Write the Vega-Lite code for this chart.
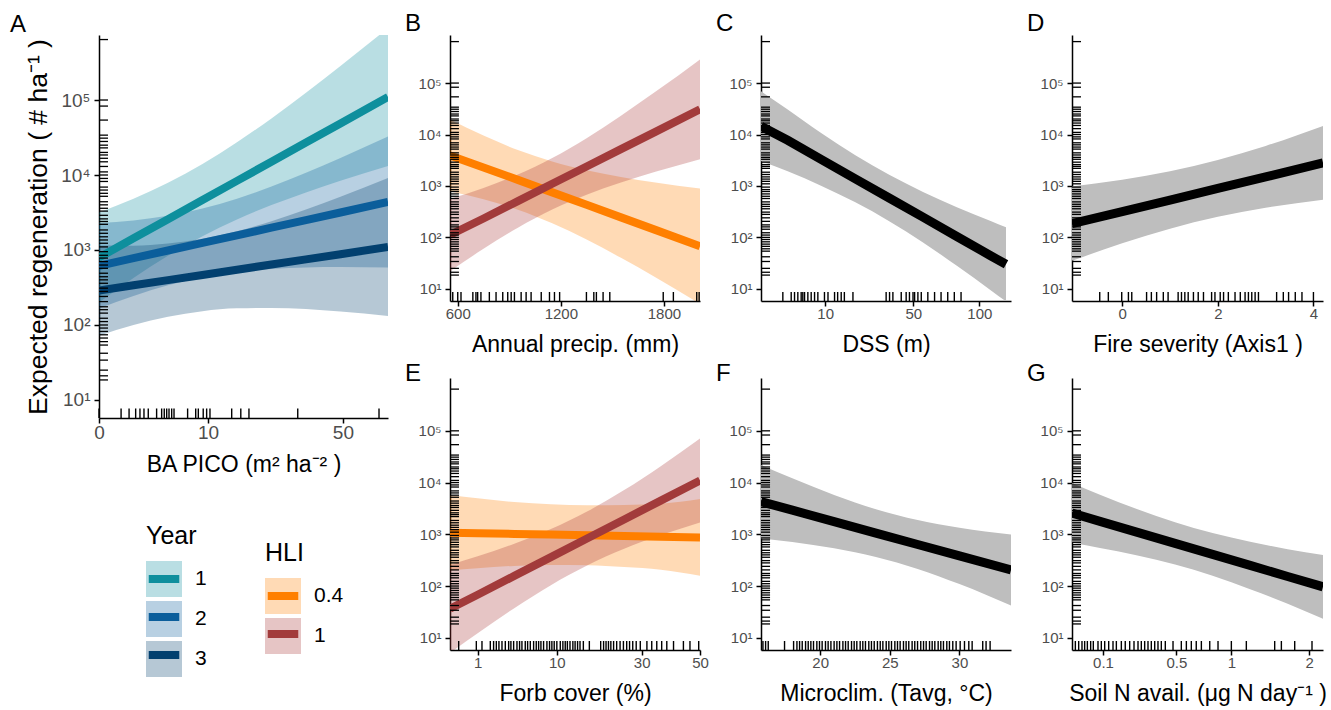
{
"$schema": "https://vega.github.io/schema/vega-lite/v6.json",
"padding": {"left": 10, "top": 12, "right": 5, "bottom": 5},
"background": "white",
"datasets": {
"bands": [
{"p":"A","g":"1","x":0,"lo":200,"fit":794,"hi":3162},
{"p":"A","g":"1","x":1,"lo":423,"fit":1429,"hi":4831},
{"p":"A","g":"1","x":4,"lo":838,"fit":2576,"hi":7910},
{"p":"A","g":"1","x":9,"lo":1528,"fit":4634,"hi":14060},
{"p":"A","g":"1","x":16,"lo":2559,"fit":8350,"hi":27290},
{"p":"A","g":"1","x":25,"lo":3972,"fit":15030,"hi":56890},
{"p":"A","g":"1","x":36,"lo":5861,"fit":27040,"hi":124700},
{"p":"A","g":"1","x":49,"lo":8375,"fit":48750,"hi":283800},
{"p":"A","g":"1","x":70.2,"lo":13180,"fit":109600,"hi":912000},
{"p":"A","g":"2","x":0,"lo":166,"fit":617,"hi":2291},
{"p":"A","g":"2","x":1,"lo":244,"fit":778,"hi":2477},
{"p":"A","g":"2","x":4,"lo":339,"fit":984,"hi":2858},
{"p":"A","g":"2","x":9,"lo":433,"fit":1242,"hi":3565},
{"p":"A","g":"2","x":16,"lo":511,"fit":1570,"hi":4831},
{"p":"A","g":"2","x":25,"lo":560,"fit":1982,"hi":7015},
{"p":"A","g":"2","x":36,"lo":585,"fit":2500,"hi":10690},
{"p":"A","g":"2","x":49,"lo":593,"fit":3162,"hi":16870},
{"p":"A","g":"2","x":70.2,"lo":583,"fit":4365,"hi":32660},
{"p":"A","g":"3","x":0,"lo":72,"fit":288,"hi":1148},
{"p":"A","g":"3","x":1,"lo":100,"fit":338,"hi":1143},
{"p":"A","g":"3","x":4,"lo":129,"fit":397,"hi":1218},
{"p":"A","g":"3","x":9,"lo":153,"fit":465,"hi":1413},
{"p":"A","g":"3","x":16,"lo":167,"fit":546,"hi":1782},
{"p":"A","g":"3","x":25,"lo":169,"fit":640,"hi":2421},
{"p":"A","g":"3","x":36,"lo":163,"fit":750,"hi":3459},
{"p":"A","g":"3","x":49,"lo":151,"fit":879,"hi":5117},
{"p":"A","g":"3","x":70.2,"lo":132,"fit":1096,"hi":9120},
{"p":"B","g":"0.4","x":555,"lo":776,"fit":3890,"hi":19500},
{"p":"B","g":"0.4","x":750,"lo":551,"fit":2291,"hi":9528},
{"p":"B","g":"0.4","x":950,"lo":345,"fit":1312,"hi":4989},
{"p":"B","g":"0.4","x":1150,"lo":188,"fit":750,"hi":2985},
{"p":"B","g":"0.4","x":1350,"lo":91,"fit":429,"hi":2023},
{"p":"B","g":"0.4","x":1550,"lo":40,"fit":245,"hi":1493},
{"p":"B","g":"0.4","x":1750,"lo":16.8,"fit":140,"hi":1167},
{"p":"B","g":"0.4","x":2010,"lo":5.1,"fit":67.6,"hi":891},
{"p":"B","g":"1","x":555,"lo":22,"fit":112,"hi":562},
{"p":"B","g":"1","x":750,"lo":60,"fit":233,"hi":912},
{"p":"B","g":"1","x":950,"lo":154,"fit":507,"hi":1671},
{"p":"B","g":"1","x":1150,"lo":347,"fit":1102,"hi":3499},
{"p":"B","g":"1","x":1350,"lo":675,"fit":2393,"hi":8492},
{"p":"B","g":"1","x":1550,"lo":1169,"fit":5200,"hi":23120},
{"p":"B","g":"1","x":1750,"lo":1884,"fit":11270,"hi":67450},
{"p":"B","g":"1","x":2010,"lo":3311,"fit":30900,"hi":288400},
{"p":"C","g":"c","x":0.1,"lo":3020,"fit":14450,"hi":69180},
{"p":"C","g":"c","x":2.25,"lo":1932,"fit":7709,"hi":30760},
{"p":"C","g":"c","x":9,"lo":1000,"fit":3260,"hi":10620},
{"p":"C","g":"c","x":20.25,"lo":480,"fit":1377,"hi":3954},
{"p":"C","g":"c","x":36,"lo":207,"fit":583,"hi":1644},
{"p":"C","g":"c","x":56.25,"lo":80,"fit":247,"hi":762},
{"p":"C","g":"c","x":81,"lo":28,"fit":104,"hi":387},
{"p":"C","g":"c","x":110.25,"lo":9.4,"fit":44,"hi":208},
{"p":"C","g":"c","x":125,"lo":5.7,"fit":30,"hi":157},
{"p":"D","g":"c","x":-1.05,"lo":35,"fit":186,"hi":977},
{"p":"D","g":"c","x":0,"lo":77,"fit":318,"hi":1315},
{"p":"D","g":"c","x":1,"lo":148,"fit":533,"hi":1928},
{"p":"D","g":"c","x":2,"lo":251,"fit":895,"hi":3192},
{"p":"D","g":"c","x":3,"lo":377,"fit":1503,"hi":6000},
{"p":"D","g":"c","x":4.2,"lo":541,"fit":2818,"hi":14690},
{"p":"E","g":"0.4","x":0.06,"lo":200,"fit":1072,"hi":5754},
{"p":"E","g":"0.4","x":1,"lo":221,"fit":1047,"hi":4955},
{"p":"E","g":"0.4","x":4,"lo":245,"fit":1016,"hi":4207},
{"p":"E","g":"0.4","x":9,"lo":256,"fit":986,"hi":3793},
{"p":"E","g":"0.4","x":16,"lo":252,"fit":957,"hi":3639},
{"p":"E","g":"0.4","x":25,"lo":232,"fit":927,"hi":3698},
{"p":"E","g":"0.4","x":36,"lo":207,"fit":899,"hi":3899},
{"p":"E","g":"0.4","x":50,"lo":158,"fit":871,"hi":4786},
{"p":"E","g":"1","x":0.06,"lo":5.1,"fit":36.3,"hi":256},
{"p":"E","g":"1","x":1,"lo":12.2,"fit":67.8,"hi":375},
{"p":"E","g":"1","x":4,"lo":37.4,"fit":157,"hi":656},
{"p":"E","g":"1","x":9,"lo":104,"fit":362,"hi":1259},
{"p":"E","g":"1","x":16,"lo":252,"fit":838,"hi":2780},
{"p":"E","g":"1","x":25,"lo":525,"fit":1936,"hi":7145},
{"p":"E","g":"1","x":36,"lo":966,"fit":4477,"hi":20750},
{"p":"E","g":"1","x":50,"lo":1698,"fit":10960,"hi":70790},
{"p":"F","g":"c","x":15.75,"lo":832,"fit":4266,"hi":21880},
{"p":"F","g":"c","x":18,"lo":710,"fit":2924,"hi":12050},
{"p":"F","g":"c","x":21,"lo":537,"fit":1758,"hi":5754},
{"p":"F","g":"c","x":24,"lo":365,"fit":1057,"hi":3062},
{"p":"F","g":"c","x":27,"lo":214,"fit":635,"hi":1888},
{"p":"F","g":"c","x":30,"lo":109,"fit":382,"hi":1337},
{"p":"F","g":"c","x":33.7,"lo":42,"fit":204,"hi":991},
{"p":"G","g":"c","x":0.0228,"lo":676,"fit":2570,"hi":9772},
{"p":"G","g":"c","x":0.09,"lo":546,"fit":1782,"hi":5821},
{"p":"G","g":"c","x":0.25,"lo":391,"fit":1091,"hi":3048},
{"p":"G","g":"c","x":0.49,"lo":260,"fit":668,"hi":1718},
{"p":"G","g":"c","x":0.81,"lo":158,"fit":409,"hi":1062},
{"p":"G","g":"c","x":1.21,"lo":87,"fit":251,"hi":719},
{"p":"G","g":"c","x":1.69,"lo":45.5,"fit":153,"hi":515},
{"p":"G","g":"c","x":2.215,"lo":23.3,"fit":96.6,"hi":400}
],
"xrug": [
{"p":"A","x":0},{"p":"A","x":0.41},{"p":"A","x":0.76},{"p":"A","x":1.13},{"p":"A","x":1.41},{"p":"A","x":1.7},{"p":"A","x":2.04},{"p":"A","x":2.79},{"p":"A","x":3.3},{"p":"A","x":3.58},{"p":"A","x":3.85},{"p":"A","x":4.12},{"p":"A","x":4.44},{"p":"A","x":4.73},{"p":"A","x":6.6},{"p":"A","x":7.86},{"p":"A","x":8.29},{"p":"A","x":9.13},{"p":"A","x":9.74},{"p":"A","x":10.35},{"p":"A","x":14.8},{"p":"A","x":16.9},{"p":"A","x":18.9},{"p":"A","x":33.2},{"p":"A","x":65.9},
{"p":"B","x":571},{"p":"B","x":600},{"p":"B","x":619},{"p":"B","x":688},{"p":"B","x":706},{"p":"B","x":716},{"p":"B","x":735},{"p":"B","x":784},{"p":"B","x":823},{"p":"B","x":862},{"p":"B","x":891},{"p":"B","x":911},{"p":"B","x":930},{"p":"B","x":969},{"p":"B","x":998},{"p":"B","x":1027},{"p":"B","x":1086},{"p":"B","x":1134},{"p":"B","x":1163},{"p":"B","x":1193},{"p":"B","x":1349},{"p":"B","x":1392},{"p":"B","x":1407},{"p":"B","x":1446},{"p":"B","x":1485},{"p":"B","x":1796},{"p":"B","x":1855},{"p":"B","x":1991},{"p":"B","x":2005},
{"p":"C","x":1.65},{"p":"C","x":2.74},{"p":"C","x":3.25},{"p":"C","x":3.8},{"p":"C","x":4.4},{"p":"C","x":4.71},{"p":"C","x":5.05},{"p":"C","x":5.73},{"p":"C","x":6.46},{"p":"C","x":7.24},{"p":"C","x":8.05},{"p":"C","x":9.8},{"p":"C","x":10.8},{"p":"C","x":12.8},{"p":"C","x":13.8},{"p":"C","x":15},{"p":"C","x":16.1},{"p":"C","x":19.3},{"p":"C","x":34.4},{"p":"C","x":36.2},{"p":"C","x":38},{"p":"C","x":42.7},{"p":"C","x":45.6},{"p":"C","x":47.6},{"p":"C","x":49.8},{"p":"C","x":50.8},{"p":"C","x":52.9},{"p":"C","x":55.1},{"p":"C","x":59.5},{"p":"C","x":64.2},{"p":"C","x":68.9},{"p":"C","x":73.9},{"p":"C","x":79},{"p":"C","x":84.4},
{"p":"D","x":-0.47},{"p":"D","x":-0.29},{"p":"D","x":-0.01},{"p":"D","x":0.13},{"p":"D","x":0.2},{"p":"D","x":0.51},{"p":"D","x":0.61},{"p":"D","x":0.72},{"p":"D","x":0.86},{"p":"D","x":0.96},{"p":"D","x":1.17},{"p":"D","x":1.24},{"p":"D","x":1.31},{"p":"D","x":1.38},{"p":"D","x":1.49},{"p":"D","x":1.59},{"p":"D","x":1.7},{"p":"D","x":1.87},{"p":"D","x":1.94},{"p":"D","x":2.05},{"p":"D","x":2.12},{"p":"D","x":2.22},{"p":"D","x":2.36},{"p":"D","x":2.47},{"p":"D","x":2.57},{"p":"D","x":2.64},{"p":"D","x":2.71},{"p":"D","x":2.78},{"p":"D","x":2.85},{"p":"D","x":3.23},{"p":"D","x":3.37},{"p":"D","x":3.48},{"p":"D","x":3.62},{"p":"D","x":3.76},{"p":"D","x":4.0},
{"p":"E","x":0.232},{"p":"E","x":0.929},{"p":"E","x":1.25},{"p":"E","x":1.81},{"p":"E","x":2.06},{"p":"E","x":2.28},{"p":"E","x":2.5},{"p":"E","x":2.77},{"p":"E","x":3.08},{"p":"E","x":3.41},{"p":"E","x":3.64},{"p":"E","x":3.93},{"p":"E","x":4.3},{"p":"E","x":4.6},{"p":"E","x":4.88},{"p":"E","x":5.29},{"p":"E","x":5.59},{"p":"E","x":5.94},{"p":"E","x":6.39},{"p":"E","x":6.76},{"p":"E","x":7.1},{"p":"E","x":7.44},{"p":"E","x":7.84},{"p":"E","x":8.36},{"p":"E","x":8.78},{"p":"E","x":9.16},{"p":"E","x":9.55},{"p":"E","x":10},{"p":"E","x":10.6},{"p":"E","x":11.07},{"p":"E","x":11.5},{"p":"E","x":11.9},{"p":"E","x":12.4},{"p":"E","x":12.96},{"p":"E","x":13.4},{"p":"E","x":13.9},{"p":"E","x":14.4},{"p":"E","x":15.1},{"p":"E","x":16.4},{"p":"E","x":19},{"p":"E","x":19.7},{"p":"E","x":20.3},{"p":"E","x":20.9},{"p":"E","x":21.5},{"p":"E","x":22.2},{"p":"E","x":23},{"p":"E","x":23.9},{"p":"E","x":24.8},{"p":"E","x":25.7},{"p":"E","x":26.5},{"p":"E","x":27.4},{"p":"E","x":28.4},{"p":"E","x":29.6},{"p":"E","x":31.6},{"p":"E","x":33.1},{"p":"E","x":34.7},{"p":"E","x":36.3},{"p":"E","x":38},{"p":"E","x":40.3},{"p":"E","x":43.8},{"p":"E","x":46.2},{"p":"E","x":49.5},
{"p":"F","x":15.89},{"p":"F","x":16.08},{"p":"F","x":16.27},{"p":"F","x":17.44},{"p":"F","x":18.09},{"p":"F","x":18.33},{"p":"F","x":18.52},{"p":"F","x":18.71},{"p":"F","x":18.95},{"p":"F","x":19.14},{"p":"F","x":19.33},{"p":"F","x":19.52},{"p":"F","x":19.76},{"p":"F","x":19.95},{"p":"F","x":20.14},{"p":"F","x":20.38},{"p":"F","x":20.57},{"p":"F","x":20.77},{"p":"F","x":21.0},{"p":"F","x":21.2},{"p":"F","x":21.39},{"p":"F","x":21.63},{"p":"F","x":21.82},{"p":"F","x":22.01},{"p":"F","x":22.25},{"p":"F","x":22.44},{"p":"F","x":22.63},{"p":"F","x":22.87},{"p":"F","x":23.06},{"p":"F","x":23.25},{"p":"F","x":23.49},{"p":"F","x":23.68},{"p":"F","x":23.88},{"p":"F","x":24.11},{"p":"F","x":24.31},{"p":"F","x":24.5},{"p":"F","x":24.74},{"p":"F","x":24.93},{"p":"F","x":25.12},{"p":"F","x":25.36},{"p":"F","x":25.55},{"p":"F","x":25.74},{"p":"F","x":25.98},{"p":"F","x":26.17},{"p":"F","x":26.36},{"p":"F","x":26.6},{"p":"F","x":26.79},{"p":"F","x":26.99},{"p":"F","x":27.22},{"p":"F","x":27.42},{"p":"F","x":27.61},{"p":"F","x":27.85},{"p":"F","x":28.04},{"p":"F","x":28.23},{"p":"F","x":28.47},{"p":"F","x":28.66},{"p":"F","x":28.85},{"p":"F","x":29.09},{"p":"F","x":29.28},{"p":"F","x":29.52},{"p":"F","x":29.76},{"p":"F","x":30.05},{"p":"F","x":30.36},{"p":"F","x":30.67},{"p":"F","x":30.91},{"p":"F","x":31.67},{"p":"F","x":31.91},{"p":"F","x":32.2},
{"p":"G","x":0.0285},{"p":"G","x":0.0348},{"p":"G","x":0.0417},{"p":"G","x":0.0477},{"p":"G","x":0.0542},{"p":"G","x":0.0627},{"p":"G","x":0.07},{"p":"G","x":0.0838},{"p":"G","x":0.0944},{"p":"G","x":0.1057},{"p":"G","x":0.12},{"p":"G","x":0.1365},{"p":"G","x":0.15},{"p":"G","x":0.1713},{"p":"G","x":0.189},{"p":"G","x":0.21},{"p":"G","x":0.2317},{"p":"G","x":0.2527},{"p":"G","x":0.2707},{"p":"G","x":0.2896},{"p":"G","x":0.309},{"p":"G","x":0.329},{"p":"G","x":0.35},{"p":"G","x":0.371},{"p":"G","x":0.393},{"p":"G","x":0.42},{"p":"G","x":0.475},{"p":"G","x":0.538},{"p":"G","x":0.578},{"p":"G","x":0.619},{"p":"G","x":0.661},{"p":"G","x":0.706},{"p":"G","x":0.783},{"p":"G","x":0.863},{"p":"G","x":1.0},{"p":"G","x":1.166},{"p":"G","x":1.515},{"p":"G","x":1.604},{"p":"G","x":1.789},{"p":"G","x":2.044}
],
"yrug": [
{"y":640000},{"y":100000},{"y":83000},{"y":54000},{"y":34000},{"y":31000},{"y":28000},{"y":25000},{"y":23000},{"y":20000},{"y":18500},{"y":16700},{"y":15000},{"y":13000},{"y":11000},{"y":10000},{"y":9000},{"y":8200},{"y":6900},{"y":6300},{"y":5700},{"y":5200},{"y":4400},{"y":4000},{"y":3600},{"y":3300},{"y":2900},{"y":2600},{"y":2400},{"y":2200},{"y":1850},{"y":1670},{"y":1500},{"y":1360},{"y":1230},{"y":1100},{"y":950},{"y":850},{"y":780},{"y":700},{"y":630},{"y":570},{"y":490},{"y":440},{"y":400},{"y":360},{"y":310},{"y":280},{"y":240},{"y":205},{"y":175},{"y":160},{"y":144},{"y":123},{"y":111},{"y":100},{"y":91},{"y":82},{"y":74},{"y":67},{"y":60},{"y":54},{"y":42},{"y":34},{"y":25},{"y":21},{"y":18.5}
]
},
"config": {
"font": "Liberation Sans",
"view": {"stroke": null},
"axis": {"grid": false, "domainColor": "black", "domainWidth": 1.5, "tickColor": "black", "tickWidth": 1.5, "tickSize": 5, "labelColor": "#4d4d4d", "labelFontSize": 15, "titleFontSize": 23, "titleFontWeight": "normal", "titleColor": "black", "labelPadding": 0, "titlePadding": 12, "labelFlush": false, "labelOverlap": false},
"axisY": {"labelPadding": 4},
"title": {"fontSize": 24, "fontWeight": "normal", "anchor": "start", "frame": "group", "baseline": "alphabetic", "color": "black"},
"legend": {"padding": 0, "labelFontSize": 21, "labelColor": "black", "titleFontSize": 25, "titleFontWeight": "normal", "titleColor": "black", "rowPadding": 4, "labelOffset": 13, "titlePadding": 12}
},
"bounds": "flush",
"spacing": 62,
"resolve": {"scale": {"fill": "independent", "stroke": "independent"}},
"hconcat": [
{
"width": 289, "height": 383,
"title": {"text": "A", "dx": -89, "offset": -2},
"layer": [
{"data": {"name": "bands"}, "transform": [{"filter": "datum.p === 'A'"}],
 "mark": {"type": "area", "opacity": 0.29, "clip": true, "interpolate": "monotone"},
 "encoding": {
  "x": {"field": "x", "type": "quantitative", "scale": {"type": "sqrt", "domain": [0, 70.2], "nice": false, "zero": false}, "axis": {"values": [0, 10, 50], "labelExpr": "'' + datum.value", "title": "BA PICO (m² ha⁻² )", "labelFontSize": 19, "titleFontSize": 23, "titlePadding": 11}},
  "y": {"field": "lo", "type": "quantitative", "scale": {"type": "log", "domain": [5.75, 736000], "nice": false}, "axis": {"values": [10, 100, 1000, 10000, 100000], "labelExpr": "'10' + (datum.value >= 99999 ? '⁵' : datum.value >= 9999 ? '⁴' : datum.value >= 999 ? '³' : datum.value >= 99 ? '²' : '¹')", "title": "Expected regeneration ( # ha⁻¹ )", "labelFontSize": 19, "titleFontSize": 26.5, "titlePadding": 8}},
  "y2": {"field": "hi"},
  "fill": {"field": "g", "type": "nominal", "scale": {"domain": ["1", "2", "3"], "range": ["#0e8f9d", "#0b5e9b", "#02406f"]}, "legend": {"orient": "none", "legendX": 47, "legendY": 489, "title": "Year", "symbolType": "square", "symbolSize": 1296, "symbolOpacity": 0.29, "symbolStrokeWidth": 0}}
 }},
{"data": {"name": "bands"}, "transform": [{"filter": "datum.p === 'A'"}],
 "mark": {"type": "line", "strokeWidth": 8, "clip": true},
 "encoding": {
  "x": {"field": "x", "type": "quantitative"},
  "y": {"field": "fit", "type": "quantitative"},
  "stroke": {"field": "g", "type": "nominal", "scale": {"range": ["#0e8f9d", "#0b5e9b", "#02406f"]}, "legend": {"orient": "none", "legendX": 47, "legendY": 526, "title": null, "labelExpr": "''", "symbolType": "M-1.09,0H1.09", "symbolSize": 784, "symbolStrokeWidth": 8, "symbolFillColor": "transparent", "symbolOpacity": 1}}
 }},
{"data": {"name": "xrug"}, "transform": [{"filter": "datum.p === 'A'"}],
 "mark": {"type": "rule", "color": "black", "strokeWidth": 1.4},
 "encoding": {"x": {"field": "x", "type": "quantitative"}, "y": {"datum": 5.75}, "y2": {"datum": 7.7}}},
{"data": {"name": "yrug"},
 "mark": {"type": "rule", "color": "black", "strokeWidth": 1.3},
 "encoding": {"y": {"field": "y", "type": "quantitative"}, "x": {"datum": 0}, "x2": {"datum": 0.068}}}
]
},
{
"concat": [
{
"width": 250, "height": 266,
"title": {"text": "B", "dx": -45, "offset": -1},
"layer": [
{"data": {"name": "bands"}, "transform": [{"filter": "datum.p === 'B'"}],
 "mark": {"type": "area", "opacity": 0.29, "clip": true, "interpolate": "monotone"},
 "encoding": {
  "x": {"field": "x", "type": "quantitative", "scale": {"type": "linear", "domain": [555, 2010], "nice": false, "zero": false}, "axis": {"values": [600, 1200, 1800], "labelExpr": "'' + datum.value", "title": "Annual precip. (mm)"}},
  "y": {"field": "lo", "type": "quantitative", "scale": {"type": "log", "domain": [5.8, 860000], "nice": false}, "axis": {"values": [10, 100, 1000, 10000, 100000], "labelExpr": "'10' + (datum.value >= 99999 ? '⁵' : datum.value >= 9999 ? '⁴' : datum.value >= 999 ? '³' : datum.value >= 99 ? '²' : '¹')", "title": null}},
  "y2": {"field": "hi"},
  "fill": {"field": "g", "type": "nominal", "scale": {"domain": ["0.4", "1"], "range": ["#ff7f00", "#a83838"]}, "legend": {"orient": "none", "legendX": -185, "legendY": 506, "title": "HLI", "symbolType": "square", "symbolSize": 1296, "symbolOpacity": 0.29, "symbolStrokeWidth": 0}}
 }},
{"data": {"name": "bands"}, "transform": [{"filter": "datum.p === 'B'"}],
 "mark": {"type": "line", "strokeWidth": 8, "clip": true},
 "encoding": {
  "x": {"field": "x", "type": "quantitative"},
  "y": {"field": "fit", "type": "quantitative"},
  "stroke": {"field": "g", "type": "nominal", "scale": {"range": ["#ff7f00", "#a23b3b"]}, "legend": {"orient": "none", "legendX": -185, "legendY": 543, "title": null, "labelExpr": "''", "symbolType": "M-1.09,0H1.09", "symbolSize": 784, "symbolStrokeWidth": 8, "symbolFillColor": "transparent", "symbolOpacity": 1}}
 }},
{"data": {"name": "xrug"}, "transform": [{"filter": "datum.p === 'B'"}],
 "mark": {"type": "rule", "color": "black", "strokeWidth": 1.4},
 "encoding": {"x": {"field": "x", "type": "quantitative"}, "y": {"datum": 5.8}, "y2": {"datum": 8.68}}},
{"data": {"name": "yrug"},
 "mark": {"type": "rule", "color": "black", "strokeWidth": 1.3},
 "encoding": {"y": {"field": "y", "type": "quantitative"}, "x": {"datum": 555}, "x2": {"datum": 607}}}
]
},
{
"width": 250, "height": 266,
"title": {"text": "C", "dx": -45, "offset": -1},
"layer": [
{"data": {"name": "bands"}, "transform": [{"filter": "datum.p === 'C'"}],
 "mark": {"type": "area", "color": "#bebebe", "clip": true, "interpolate": "monotone"},
 "encoding": {
  "x": {"field": "x", "type": "quantitative", "scale": {"type": "sqrt", "domain": [0.1, 130], "nice": false, "zero": false}, "axis": {"values": [10, 50, 100], "labelExpr": "'' + datum.value", "title": "DSS (m)"}},
  "y": {"field": "lo", "type": "quantitative", "scale": {"type": "log", "domain": [5.8, 860000], "nice": false}, "axis": {"values": [10, 100, 1000, 10000, 100000], "labelExpr": "'10' + (datum.value >= 99999 ? '⁵' : datum.value >= 9999 ? '⁴' : datum.value >= 999 ? '³' : datum.value >= 99 ? '²' : '¹')", "title": null}},
  "y2": {"field": "hi"}
 }},
{"data": {"name": "bands"}, "transform": [{"filter": "datum.p === 'C'"}],
 "mark": {"type": "line", "strokeWidth": 9, "color": "black", "clip": true},
 "encoding": {"x": {"field": "x", "type": "quantitative"}, "y": {"field": "fit", "type": "quantitative"}}},
{"data": {"name": "xrug"}, "transform": [{"filter": "datum.p === 'C'"}],
 "mark": {"type": "rule", "color": "black", "strokeWidth": 1.4},
 "encoding": {"x": {"field": "x", "type": "quantitative"}, "y": {"datum": 5.8}, "y2": {"datum": 8.68}}},
{"data": {"name": "yrug"},
 "mark": {"type": "rule", "color": "black", "strokeWidth": 1.3},
 "encoding": {"y": {"field": "y", "type": "quantitative"}, "x": {"datum": 0.1}, "x2": {"datum": 0.511}}}
]
},
{
"width": 251, "height": 266,
"title": {"text": "D", "dx": -45, "offset": -1},
"layer": [
{"data": {"name": "bands"}, "transform": [{"filter": "datum.p === 'D'"}],
 "mark": {"type": "area", "color": "#bebebe", "clip": true, "interpolate": "monotone"},
 "encoding": {
  "x": {"field": "x", "type": "quantitative", "scale": {"type": "linear", "domain": [-1.05, 4.2], "nice": false, "zero": false}, "axis": {"values": [0, 2, 4], "labelExpr": "'' + datum.value", "title": "Fire severity (Axis1 )"}},
  "y": {"field": "lo", "type": "quantitative", "scale": {"type": "log", "domain": [5.8, 860000], "nice": false}, "axis": {"values": [10, 100, 1000, 10000, 100000], "labelExpr": "'10' + (datum.value >= 99999 ? '⁵' : datum.value >= 9999 ? '⁴' : datum.value >= 999 ? '³' : datum.value >= 99 ? '²' : '¹')", "title": null}},
  "y2": {"field": "hi"}
 }},
{"data": {"name": "bands"}, "transform": [{"filter": "datum.p === 'D'"}],
 "mark": {"type": "line", "strokeWidth": 9, "color": "black", "clip": true},
 "encoding": {"x": {"field": "x", "type": "quantitative"}, "y": {"field": "fit", "type": "quantitative"}}},
{"data": {"name": "xrug"}, "transform": [{"filter": "datum.p === 'D'"}],
 "mark": {"type": "rule", "color": "black", "strokeWidth": 1.4},
 "encoding": {"x": {"field": "x", "type": "quantitative"}, "y": {"datum": 5.8}, "y2": {"datum": 8.68}}},
{"data": {"name": "yrug"},
 "mark": {"type": "rule", "color": "black", "strokeWidth": 1.3},
 "encoding": {"y": {"field": "y", "type": "quantitative"}, "x": {"datum": -1.05}, "x2": {"datum": -0.862}}}
]
},
{
"width": 250, "height": 272,
"title": {"text": "E", "dx": -45, "offset": -8},
"layer": [
{"data": {"name": "bands"}, "transform": [{"filter": "datum.p === 'E'"}],
 "mark": {"type": "area", "opacity": 0.29, "clip": true, "interpolate": "monotone"},
 "encoding": {
  "x": {"field": "x", "type": "quantitative", "scale": {"type": "sqrt", "domain": [0.06, 50], "nice": false, "zero": false}, "axis": {"values": [1, 10, 30, 50], "labelExpr": "'' + datum.value", "title": "Forb cover (%)"}},
  "y": {"field": "lo", "type": "quantitative", "scale": {"type": "log", "domain": [5.8, 1050000], "nice": false}, "axis": {"values": [10, 100, 1000, 10000, 100000], "labelExpr": "'10' + (datum.value >= 99999 ? '⁵' : datum.value >= 9999 ? '⁴' : datum.value >= 999 ? '³' : datum.value >= 99 ? '²' : '¹')", "title": null}},
  "y2": {"field": "hi"},
  "fill": {"field": "g", "type": "nominal", "scale": {"domain": ["0.4", "1"], "range": ["#ff7f00", "#a83838"]}, "legend": null}
 }},
{"data": {"name": "bands"}, "transform": [{"filter": "datum.p === 'E'"}],
 "mark": {"type": "line", "strokeWidth": 8, "clip": true},
 "encoding": {
  "x": {"field": "x", "type": "quantitative"},
  "y": {"field": "fit", "type": "quantitative"},
  "stroke": {"field": "g", "type": "nominal", "scale": {"range": ["#ff7f00", "#a23b3b"]}, "legend": null}
 }},
{"data": {"name": "xrug"}, "transform": [{"filter": "datum.p === 'E'"}],
 "mark": {"type": "rule", "color": "black", "strokeWidth": 1.4},
 "encoding": {"x": {"field": "x", "type": "quantitative"}, "y": {"datum": 5.8}, "y2": {"datum": 8.66}}},
{"data": {"name": "yrug"},
 "mark": {"type": "rule", "color": "black", "strokeWidth": 1.3},
 "encoding": {"y": {"field": "y", "type": "quantitative"}, "x": {"datum": 0.06}, "x2": {"datum": 0.241}}}
]
},
{
"width": 250, "height": 272,
"title": {"text": "F", "dx": -45, "offset": -8},
"layer": [
{"data": {"name": "bands"}, "transform": [{"filter": "datum.p === 'F'"}],
 "mark": {"type": "area", "color": "#bebebe", "clip": true, "interpolate": "monotone"},
 "encoding": {
  "x": {"field": "x", "type": "quantitative", "scale": {"type": "linear", "domain": [15.75, 33.7], "nice": false, "zero": false}, "axis": {"values": [20, 25, 30], "labelExpr": "'' + datum.value", "title": "Microclim. (Tavg, °C)"}},
  "y": {"field": "lo", "type": "quantitative", "scale": {"type": "log", "domain": [5.8, 1050000], "nice": false}, "axis": {"values": [10, 100, 1000, 10000, 100000], "labelExpr": "'10' + (datum.value >= 99999 ? '⁵' : datum.value >= 9999 ? '⁴' : datum.value >= 999 ? '³' : datum.value >= 99 ? '²' : '¹')", "title": null}},
  "y2": {"field": "hi"}
 }},
{"data": {"name": "bands"}, "transform": [{"filter": "datum.p === 'F'"}],
 "mark": {"type": "line", "strokeWidth": 9, "color": "black", "clip": true},
 "encoding": {"x": {"field": "x", "type": "quantitative"}, "y": {"field": "fit", "type": "quantitative"}}},
{"data": {"name": "xrug"}, "transform": [{"filter": "datum.p === 'F'"}],
 "mark": {"type": "rule", "color": "black", "strokeWidth": 1.4},
 "encoding": {"x": {"field": "x", "type": "quantitative"}, "y": {"datum": 5.8}, "y2": {"datum": 8.66}}},
{"data": {"name": "yrug"},
 "mark": {"type": "rule", "color": "black", "strokeWidth": 1.3},
 "encoding": {"y": {"field": "y", "type": "quantitative"}, "x": {"datum": 15.75}, "x2": {"datum": 16.4}}}
]
},
{
"width": 251, "height": 272,
"title": {"text": "G", "dx": -45, "offset": -8},
"layer": [
{"data": {"name": "bands"}, "transform": [{"filter": "datum.p === 'G'"}],
 "mark": {"type": "area", "color": "#bebebe", "clip": true, "interpolate": "monotone"},
 "encoding": {
  "x": {"field": "x", "type": "quantitative", "scale": {"type": "sqrt", "domain": [0.0228, 2.215], "nice": false, "zero": false}, "axis": {"values": [0.1, 0.5, 1, 2], "labelExpr": "'' + datum.value", "title": "Soil N avail. (μg N day⁻¹ )"}},
  "y": {"field": "lo", "type": "quantitative", "scale": {"type": "log", "domain": [5.8, 1050000], "nice": false}, "axis": {"values": [10, 100, 1000, 10000, 100000], "labelExpr": "'10' + (datum.value >= 99999 ? '⁵' : datum.value >= 9999 ? '⁴' : datum.value >= 999 ? '³' : datum.value >= 99 ? '²' : '¹')", "title": null}},
  "y2": {"field": "hi"}
 }},
{"data": {"name": "bands"}, "transform": [{"filter": "datum.p === 'G'"}],
 "mark": {"type": "line", "strokeWidth": 9, "color": "black", "clip": true},
 "encoding": {"x": {"field": "x", "type": "quantitative"}, "y": {"field": "fit", "type": "quantitative"}}},
{"data": {"name": "xrug"}, "transform": [{"filter": "datum.p === 'G'"}],
 "mark": {"type": "rule", "color": "black", "strokeWidth": 1.4},
 "encoding": {"x": {"field": "x", "type": "quantitative"}, "y": {"datum": 5.8}, "y2": {"datum": 8.66}}},
{"data": {"name": "yrug"},
 "mark": {"type": "rule", "color": "black", "strokeWidth": 1.3},
 "encoding": {"y": {"field": "y", "type": "quantitative"}, "x": {"datum": 0.0228}, "x2": {"datum": 0.0396}}}
]
}
],
"columns": 3,
"spacing": {"row": 77, "column": 61},
"bounds": "flush",
"resolve": {"scale": {"fill": "independent", "stroke": "independent"}}
}
]
}
